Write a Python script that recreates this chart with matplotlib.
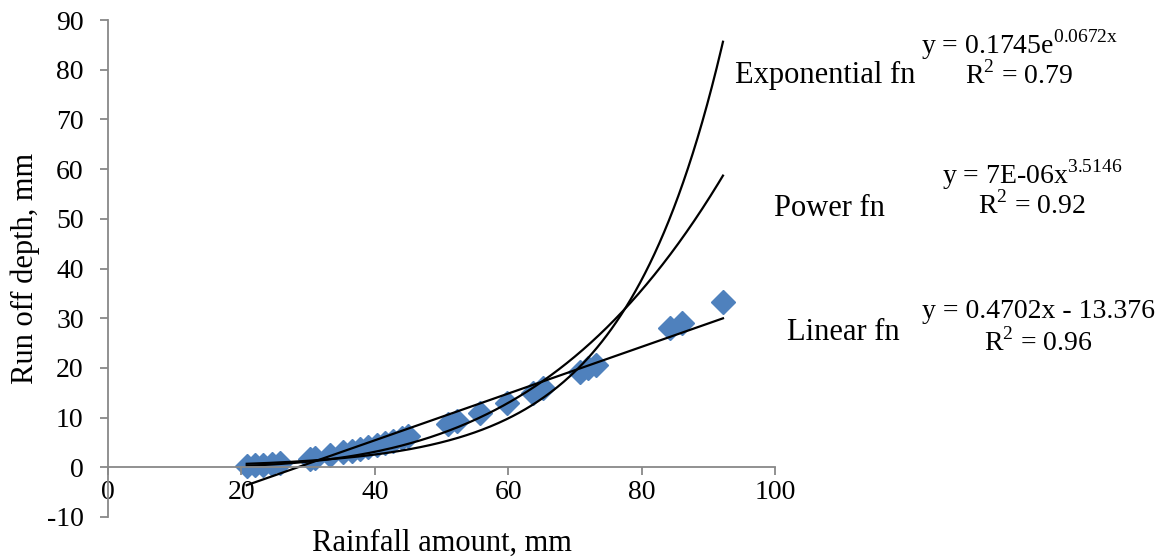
import numpy as np
import matplotlib.pyplot as plt

plt.rcParams['font.family'] = ['Liberation Serif', 'DejaVu Serif']
plt.rcParams['mathtext.fontset'] = 'custom'
plt.rcParams['mathtext.rm'] = 'Liberation Serif'
plt.rcParams['axes.unicode_minus'] = False

# rainfall (mm) vs runoff depth (mm)
rain = [20.8, 22.0, 23.2, 24.6, 25.8, 30.3, 31.0, 33.3, 35.2, 36.6, 37.8, 39.0,
        40.3, 41.5, 42.7, 44.1, 45.0, 51.0, 52.3, 55.8, 59.8, 63.7, 65.2,
        70.8, 72.0, 73.2, 84.3, 86.1, 92.2]
runoff = [0.3, 0.4, 0.5, 0.6, 0.8, 1.6, 1.8, 2.5, 3.0, 3.3, 3.6, 4.0,
          4.4, 4.8, 5.3, 5.8, 6.2, 8.7, 9.3, 10.9, 12.9, 14.9, 15.9,
          19.1, 19.9, 20.5, 28.0, 29.0, 33.2]

# trendline coefficients
lin_a, lin_b = 0.4702, -13.376
exp_a, exp_b = 0.1745, 0.0672
pow_a, pow_b = 7.3e-6, 3.5146

labels = ["Exponential fn", "Power fn", "Linear fn"]
eqs = [r"y = 0.1745e$^{\mathrm{0.0672x}}$", r"y = 7E-06x$^{\mathrm{3.5146}}$", "y = 0.4702x - 13.376"]
r2 = [r"R$^{\mathrm{2}}$ = 0.79", r"R$^{\mathrm{2}}$ = 0.92", r"R$^{\mathrm{2}}$ = 0.96"]

fig = plt.figure(figsize=(11.6, 5.6), dpi=100)
ax = fig.add_axes([108/1160, 43/560, 667/1160, 497/560])

xs = np.linspace(min(rain), max(rain), 300)
ax.plot(xs, lin_a * xs + lin_b, color='black', lw=1.6)
ax.plot(xs, exp_a * np.exp(exp_b * xs), color='black', lw=1.6)
ax.plot(xs, pow_a * xs ** pow_b, color='black', lw=1.6)
ax.plot(rain, runoff, 'D', color='#4F81BD', ms=12, mec='#4F81BD', zorder=1)

ax.set_xlim(0, 100)
ax.set_ylim(-10, 90)
ax.set_xticks(range(0, 101, 20))
ax.set_yticks(range(-10, 91, 10))
for s in ['top', 'right']:
    ax.spines[s].set_visible(False)
ax.spines['bottom'].set_position(('data', 0))
for s in ['left', 'bottom']:
    ax.spines[s].set_color('#888888')
    ax.spines[s].set_linewidth(1.3)
ax.tick_params(colors='#888888', labelcolor='black', length=5.5, width=1.3, labelsize=20)
ax.tick_params(axis='y', pad=12)
ax.tick_params(axis='x', pad=4)

ax.set_xlabel("Rainfall amount, mm", fontsize=22, va='center')
ax.set_ylabel("Run off depth, mm", fontsize=22, va='center')
ax.xaxis.set_label_coords(0.5, -0.052)
ax.yaxis.set_label_coords(-0.124, 0.5)

W, H = 1160, 560
name_pos = [(735, 75), (774, 208), (787, 332)]
eq_pos = [(1019, 45), (1032, 175), (1038, 312)]
r2_pos = [(1019, 75), (1032, 205), (1038, 342)]
for i in range(3):
    fig.text(name_pos[i][0] / W, 1 - name_pos[i][1] / H, labels[i], fontsize=22, va='center')
    fig.text(eq_pos[i][0] / W, 1 - eq_pos[i][1] / H, eqs[i], fontsize=20, va='center', ha='center')
    fig.text(r2_pos[i][0] / W, 1 - r2_pos[i][1] / H, r2[i], fontsize=20, va='center', ha='center')

fig.savefig("out.png", dpi=100)
